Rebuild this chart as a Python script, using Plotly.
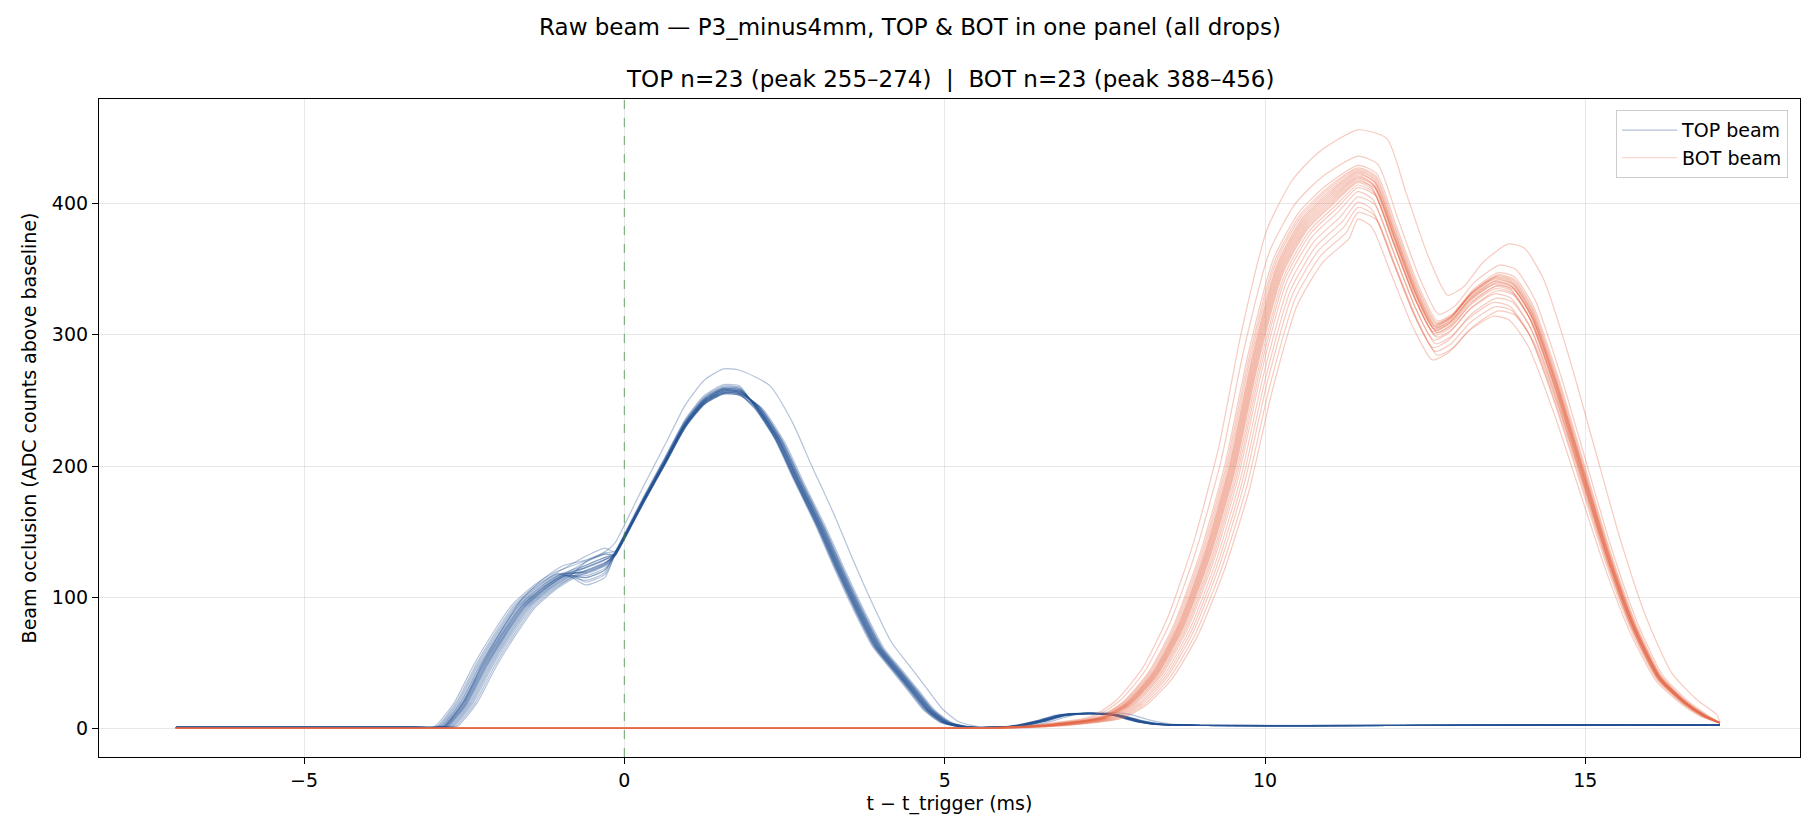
import numpy as np
import plotly.graph_objects as go

# ---------------- data ----------------
# TOP beam: typical (bundle) curve, time in ms relative to trigger
top_t = [-7.0, -3.2, -2.9, -2.8, -2.5, -2.2, -1.9, -1.6, -1.25, -0.95, -0.6, -0.3, -0.15,
         0.0, 0.3, 0.65, 0.95, 1.25, 1.55, 1.8, 2.05, 2.4, 2.7, 3.05, 3.35, 3.65, 3.95,
         4.25, 4.5, 4.75, 5.0, 5.3, 5.7, 6.1, 6.5, 6.8, 7.1, 7.4, 7.7, 8.0, 8.3, 9.0, 12.0, 17.1]
top_mean = [1.0, 1.0, 1.0, 2.0, 20, 48, 72, 93, 108, 117, 121, 127, 133,
            146, 174, 205, 232, 250, 258, 257, 246, 220, 189, 154, 121, 90, 62,
            44, 29, 14, 5, 1.5, 1.0, 2.0, 6.0, 10, 11.5, 11.5, 10, 6.0, 3.5, 2.5, 2.5, 3.0]
# per-drop variations (23 drops)
top_peak = [274, 262, 261, 260, 260, 259, 259, 259, 258, 258, 258, 258, 257, 257, 257, 257,
            256, 256, 256, 256, 255, 255, 255]
top_rise_shift = [0.0, -0.15, -0.12, -0.1, -0.08, -0.06, -0.05, -0.03, -0.02, -0.01, 0.0, 0.01,
                  0.02, 0.03, 0.04, 0.05, 0.06, 0.08, 0.1, 0.12, 0.14, 0.17, 0.2]
top_fall_shift = [0.22, -0.08, -0.06, -0.05, -0.04, -0.03, -0.02, -0.01, 0.0, 0.0, 0.01, 0.02,
                  0.03, 0.04, 0.05, 0.06, 0.07, 0.08, 0.1, -0.02, 0.03, 0.0, 0.05]
top_shoulder = [121, 126, 130, 112, 118, 124, 119, 122, 115, 127, 120, 123, 117, 125, 121, 110,
                124, 119, 128, 116, 122, 113, 120]

# BOT beam: typical (bundle) curve
bot_t = [-7.0, 5.0, 5.9, 6.7, 7.5, 7.9, 8.3, 8.7, 9.1, 9.5, 9.85, 10.25, 10.65, 11.05, 11.45,
         11.7, 12.0, 12.35, 12.65, 12.9, 13.2, 13.6, 13.85, 14.15, 14.55, 14.95, 15.35, 15.75,
         16.15, 16.55, 16.85, 17.1]
bot_mean = [0.3, 0.3, 0.8, 3.0, 8.5, 20, 42, 78, 130, 198, 278, 350, 385, 404, 420,
            414, 376, 331, 304, 310, 327, 340, 337, 315, 260, 196, 132, 78,
            39, 20, 10, 4.5]
bot_peak = [456, 436, 429, 427, 426, 425, 424, 423, 422, 421, 420, 419, 418, 417, 416, 414,
            412, 409, 405, 401, 397, 393, 388]
bot_rise_shift = [-0.22, -0.18, -0.12, -0.1, -0.08, -0.06, -0.05, -0.04, -0.03, -0.02, -0.01,
                  0.0, 0.01, 0.02, 0.03, 0.05, 0.07, 0.09, 0.12, 0.15, 0.18, 0.22, 0.26]
bot_fall_shift = [0.2, 0.06, 0.04, 0.03, 0.02, 0.01, 0.0, -0.01, 0.02, -0.02, 0.0, 0.01, -0.03,
                  0.03, -0.01, 0.0, 0.02, -0.02, 0.01, -0.03, 0.0, 0.04, -0.04]

x_ticks = [-5, 0, 5, 10, 15]
y_ticks = [0, 100, 200, 300, 400]

TOP_COLOR = "rgba(36,82,148,0.35)"
BOT_COLOR = "rgba(230,105,75,0.35)"
FONT = "DejaVu Sans"
SMALL = 19
LARGE = 23

fig = go.Figure()

tt = np.array(top_t, dtype=float)
tm = np.array(top_mean, dtype=float)
for i in range(len(top_peak)):
    x = tt.copy()
    x[(tt > -3.5) & (tt <= -0.9)] += top_rise_shift[i]
    x[(tt >= 2.0) & (tt <= 8.5)] += top_fall_shift[i]
    y = tm * top_peak[i] / tm.max()
    y[(tt >= -0.65) & (tt <= -0.25)] += top_shoulder[i] - 121
    fig.add_trace(go.Scatter(
        x=x, y=y, mode="lines",
        line=dict(color=TOP_COLOR, width=1.2, shape="spline", smoothing=0.6),
        name="TOP beam", legendgroup="top", showlegend=(i == 0), hoverinfo="skip"))

bt = np.array(bot_t, dtype=float)
bm = np.array(bot_mean, dtype=float)
for i in range(len(bot_peak)):
    x = bt.copy()
    x[(bt >= 5.5) & (bt <= 11.1)] += bot_rise_shift[i]
    x[(bt >= 11.6) & (bt <= 16.9)] += bot_fall_shift[i]
    y = bm * bot_peak[i] / bm.max()
    fig.add_trace(go.Scatter(
        x=x, y=y, mode="lines",
        line=dict(color=BOT_COLOR, width=1.2, shape="spline", smoothing=0.6),
        name="BOT beam", legendgroup="bot", showlegend=(i == 0), hoverinfo="skip"))

# trigger marker
fig.add_shape(type="line", x0=0, x1=0, y0=0, y1=1, xref="x", yref="paper",
              line=dict(color="rgba(60,140,60,0.6)", width=1.2, dash="dash"), layer="above")

# axes title (panel title)
fig.add_annotation(
    text="TOP n=23 (peak 255–274)\u00a0\u00a0|\u00a0\u00a0BOT n=23 (peak 388–456)",
    xref="paper", yref="paper", x=0.5, y=1, yanchor="bottom", yshift=5,
    showarrow=False, font=dict(family=FONT, size=LARGE, color="black"))

fig.update_layout(
    width=1820, height=840,
    margin=dict(l=99, r=20, t=99, b=83),
    paper_bgcolor="white", plot_bgcolor="white",
    font=dict(family=FONT, size=SMALL, color="black"),
    title=dict(text="Raw beam — P3_minus4mm, TOP & BOT in one panel (all drops)",
               x=0.5, xanchor="center", y=1 - 27 / 840, yanchor="middle",
               font=dict(family=FONT, size=LARGE, color="black")),
    legend=dict(x=0.993, y=0.983, xanchor="right", yanchor="top",
                bgcolor="rgba(255,255,255,0.8)", bordercolor="#cccccc", borderwidth=1,
                font=dict(family=FONT, size=SMALL, color="black"), tracegroupgap=0,
                itemwidth=55),
    showlegend=True,
)

fig.update_xaxes(
    range=[-8.2, 18.35], tickvals=x_ticks, ticks="outside", ticklen=6, tickwidth=1,
    tickcolor="black", showline=True, linecolor="black", linewidth=1.2, mirror=True,
    showgrid=True, gridcolor="rgba(0,0,0,0.09)", gridwidth=1, zeroline=False,
    title=dict(text="t − t_trigger (ms)", standoff=6, font=dict(family=FONT, size=SMALL)),
    tickfont=dict(family=FONT, size=SMALL))
fig.update_yaxes(
    range=[-21.5, 479.5], tickvals=y_ticks, ticks="outside", ticklen=6, tickwidth=1,
    tickcolor="black", showline=True, linecolor="black", linewidth=1.2, mirror=True,
    showgrid=True, gridcolor="rgba(0,0,0,0.09)", gridwidth=1, zeroline=False,
    title=dict(text="Beam occlusion (ADC counts above baseline)", standoff=10,
               font=dict(family=FONT, size=SMALL)),
    tickfont=dict(family=FONT, size=SMALL))

fig.write_html("out.html")
